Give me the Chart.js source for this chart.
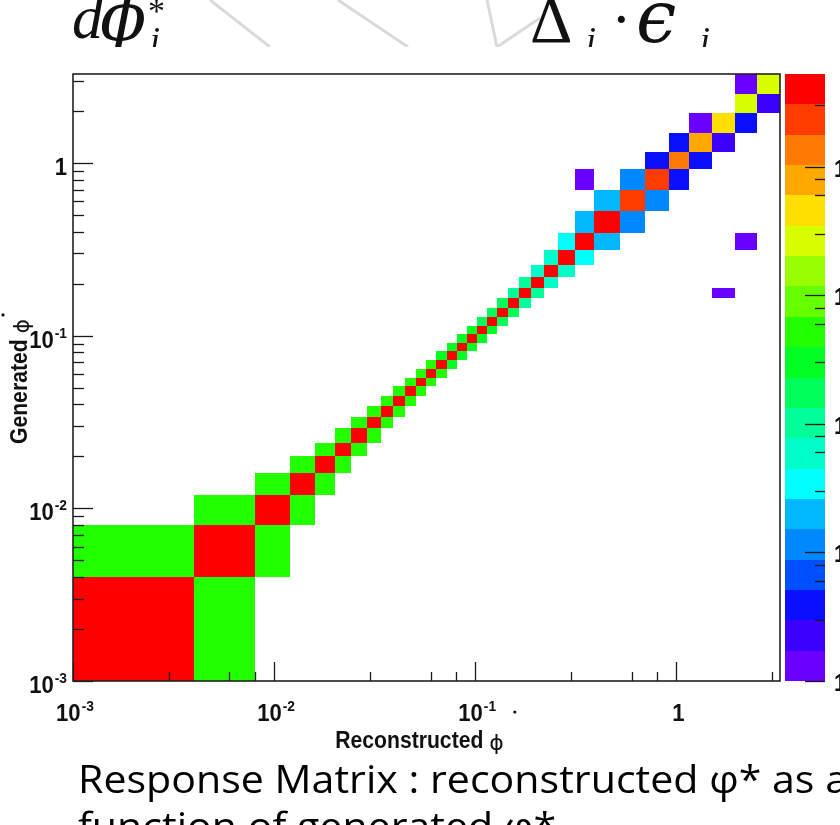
<!DOCTYPE html>
<html>
<head>
<meta charset="utf-8">
<script src="https://cdn.jsdelivr.net/npm/chart.js@4.4.1/dist/chart.umd.min.js"></script>
<style>
html,body{margin:0;padding:0;background:#fff;overflow:hidden}
#c{display:block}
</style>
</head>
<body>
<canvas id="c" width="840" height="825"></canvas>
<script>
// ---------------- data ----------------
const binEdges = [0.001,0.004,0.008,0.012,0.016,0.020,0.024,0.029,0.034,0.039,0.045,0.051,0.057,0.064,0.072,0.081,0.091,0.102,0.114,0.128,0.145,0.165,0.189,0.219,0.258,0.312,0.391,0.524,0.695,0.918,1.153,1.496,1.947,2.522,3.277];
// counts on the diagonal (reco bin == generated bin)
const diagCounts = [44000,46000,41000,39000,42000,40500,43000,41500,40000,42500,39500,41000,40000,38500,39000,41000,40000,38000,39500,37500,38000,36500,37000,35000,36000,34500,33500,24000,21500,13500,8200,4700,2700,2500];
// counts in reco bin = generated bin - 1
const lowerCounts = [null,560,540,520,510,500,490,500,480,470,480,460,450,430,340,320,300,280,190,170,150,110,95,62,52,34,21,18,11,4,4,1,null,1];
// counts in reco bin = generated bin + 1
const upperCounts = [600,580,560,540,520,510,500,490,480,470,460,450,440,380,350,330,300,270,200,160,120,90,70,55,38,22,13,11,4,4,2,4,2,null];
// isolated entries
const extraGen = [21,25,28];
const extraReco = [31,32,25];
const extraCounts = [1,1,1];
// colour scale
const zMin = 1, zMax = 52480, nContours = 20;
const palette = ['#6a00ff','#3c00ff','#0a10ff','#0050ff','#0088ff','#00b8ff','#00ffff','#00ffc8','#00ff99','#00ff5a','#00ff22','#22ff00','#66ff00','#99ff00','#d8ff00','#ffe000','#ffa800','#ff7a00','#ff3c00','#ff0000'];
// axis tick labels
const xTickValues = [0.001,0.01,0.1,1];
const xTickLabels = ['10^-3','10^-2','10^-1','1'];
const yTickValues = [0.001,0.01,0.1,1];
const yTickLabels = ['10^-3','10^-2','10^-1','1'];
const zTickValues = [1,10,100,1000,10000];
const zTickLabels = ['1','10','10^2','10^3','10^4'];
const xTitle = 'Reconstructed ';
const yTitle = 'Generated ';
const phiSym = '\u03D5';
const caption1 = 'Response Matrix : reconstructed \u03C6* as a';
const caption2 = 'function of generated \u03C6*';

// ---------------- build cells ----------------
const cells = [];
for (let g = 0; g < diagCounts.length; g++) {
  cells.push({g, r: g, z: diagCounts[g]});
  if (lowerCounts[g] != null) cells.push({g, r: g - 1, z: lowerCounts[g]});
  if (upperCounts[g] != null) cells.push({g, r: g + 1, z: upperCounts[g]});
}
for (let i = 0; i < extraGen.length; i++) cells.push({g: extraGen[i], r: extraReco[i], z: extraCounts[i]});
const points = cells.map(c => ({
  x: Math.sqrt(binEdges[c.r] * binEdges[c.r + 1]),
  y: Math.sqrt(binEdges[c.g] * binEdges[c.g + 1]),
  z: c.z, r: c.r, g: c.g
}));

function logTicks(min, max) {
  const t = [];
  for (let e = -4; e <= 5; e++) for (let m = 1; m <= 9; m++) {
    const v = +(m * Math.pow(10, e)).toPrecision(6);
    if (v >= min * 0.9999 && v <= max * 1.0001) t.push({value: v, major: m === 1});
  }
  return t;
}

const SX = 0.92;
const LBL = '"Liberation Sans", Arial, sans-serif';
function sText(ctx, s, x, y, font, sx) {
  ctx.save(); ctx.font = font; ctx.translate(x, y); ctx.scale(sx, 1); ctx.textAlign = 'left'; ctx.fillText(s, 0, 0); ctx.restore();
}
function powLabel(ctx, label, x, y, align, big, small, rise) {
  const parts = label.split('^');
  ctx.font = 'bold ' + big + 'px ' + LBL;
  const wb = ctx.measureText(parts[0]).width * SX;
  let we = 0;
  if (parts[1]) { ctx.font = 'bold ' + small + 'px ' + LBL; we = ctx.measureText(parts[1]).width * SX + 1; }
  const tot = wb + we;
  const x0 = align === 'center' ? x - tot / 2 : align === 'right' ? x - tot : x;
  sText(ctx, parts[0], x0, y, 'bold ' + big + 'px ' + LBL, SX);
  if (parts[1]) sText(ctx, parts[1], x0 + wb + 1, y - rise, 'bold ' + small + 'px ' + LBL, SX);
}
function bandIndex(z) {
  const f = (Math.log10(z) - Math.log10(zMin)) / (Math.log10(zMax) - Math.log10(zMin));
  return Math.max(0, Math.min(nContours - 1, Math.floor(f * nContours)));
}

// ---------------- plugins ----------------
const slidePlugin = {
  id: 'slide',
  beforeDraw(chart) {
    const ctx = chart.ctx;
    ctx.save();
    ctx.fillStyle = '#fff'; ctx.fillRect(0, 0, chart.width, chart.height);
    ctx.beginPath(); ctx.rect(0, 0, 840, 47); ctx.clip();
    ctx.strokeStyle = '#dadada'; ctx.lineWidth = 3;
    [[210,0,270,47],[338,0,408,47],[487,0,497,47],[497,47,540,18]].forEach(l => {
      ctx.beginPath(); ctx.moveTo(l[0], l[1]); ctx.lineTo(l[2], l[3]); ctx.stroke();
    });
    ctx.fillStyle = '#111';
    const SER = '"Liberation Serif","DejaVu Serif",serif';
    ctx.font = 'italic 62px ' + SER; ctx.fillText('d', 72, 38);
    ctx.font = 'italic 68px "DejaVu Serif",serif'; ctx.fillText(phiSym, 100, 40);
    ctx.font = '34px ' + SER; ctx.fillText('*', 148, 22);
    ctx.font = 'italic 36px ' + SER; ctx.fillText('i', 150, 52);
    ctx.font = '66px ' + SER; ctx.fillText('\u0394', 530, 42);
    ctx.font = 'italic 36px ' + SER; ctx.fillText('i', 586, 52);
    ctx.font = 'bold 44px ' + SER; ctx.fillText('\u00B7', 614, 34);
    ctx.font = 'italic 72px "DejaVu Serif",serif'; ctx.fillText('\u03F5', 636, 42);
    ctx.font = 'italic 36px ' + SER; ctx.fillText('i', 700, 52);
    ctx.restore();
  }
};

const cellPlugin = {
  id: 'cells',
  beforeDatasetsDraw(chart) {
    const ctx = chart.ctx, xs = chart.scales.x, ys = chart.scales.y, a = chart.chartArea;
    ctx.save();
    ctx.beginPath(); ctx.rect(a.left, a.top, a.right - a.left, a.bottom - a.top); ctx.clip();
    chart.data.datasets[0].data.forEach(p => {
      const x0 = xs.getPixelForValue(binEdges[p.r]), x1 = xs.getPixelForValue(binEdges[p.r + 1]);
      const y0 = ys.getPixelForValue(binEdges[p.g]), y1 = ys.getPixelForValue(binEdges[p.g + 1]);
      ctx.fillStyle = palette[bandIndex(p.z)];
      ctx.fillRect(Math.round(x0), Math.round(y1), Math.round(x1) - Math.round(x0), Math.round(y0) - Math.round(y1));
    });
    ctx.restore();
  }
};

const axesPlugin = {
  id: 'rootAxes',
  afterDraw(chart) {
    const ctx = chart.ctx, xs = chart.scales.x, ys = chart.scales.y, zs = chart.scales.z, a = chart.chartArea;
    ctx.save();
    // ticks
    ctx.strokeStyle = '#1a1a1a'; ctx.lineWidth = 1.3;
    xs.ticks.forEach(t => {
      const px = Math.round(xs.getPixelForValue(t.value)) + 0.5;
      const len = t.major ? 19 : 9;
      ctx.beginPath(); ctx.moveTo(px, a.bottom); ctx.lineTo(px, a.bottom - len); ctx.stroke();
    });
    ys.ticks.forEach(t => {
      const py = Math.round(ys.getPixelForValue(t.value)) + 0.5;
      const len = t.major ? 20 : 11;
      ctx.beginPath(); ctx.moveTo(a.left, py); ctx.lineTo(a.left + len, py); ctx.stroke();
    });
    // frame
    ctx.strokeStyle = '#222'; ctx.lineWidth = 1.6;
    ctx.strokeRect(a.left, a.top, a.right - a.left, a.bottom - a.top);
    // tick labels
    ctx.fillStyle = '#111';
    xTickValues.forEach((v, i) => powLabel(ctx, xTickLabels[i], xs.getPixelForValue(v) + 2, a.bottom + 40, 'center', 24, 15, 10));
    yTickValues.forEach((v, i) => powLabel(ctx, yTickLabels[i], a.left - 6, ys.getPixelForValue(v) + 12, 'right', 24, 15, 10));
    // x title
    ctx.font = 'bold 23px ' + LBL;
    const wT = ctx.measureText(xTitle).width * SX;
    ctx.font = '22px "DejaVu Sans",sans-serif';
    const wP = ctx.measureText(phiSym).width;
    const xt0 = (a.left + a.right) / 2 - 7 - (wT + wP) / 2;
    sText(ctx, xTitle, xt0, a.bottom + 67, 'bold 23px ' + LBL, SX);
    ctx.font = '22px "DejaVu Sans",sans-serif'; ctx.fillText(phiSym, xt0 + wT, a.bottom + 69);
    ctx.beginPath(); ctx.arc(xt0 + wT + wP + 11, a.bottom + 31, 1.6, 0, Math.PI * 2); ctx.fill();
    // y title
    ctx.save();
    const yc = (a.top + a.bottom) / 2;
    ctx.font = 'bold 23px ' + LBL;
    const wY = ctx.measureText(yTitle).width * SX;
    ctx.translate(27, yc + (wY + wP) / 2 + 4);
    ctx.rotate(-Math.PI / 2);
    sText(ctx, yTitle, 0, 0, 'bold 23px ' + LBL, SX);
    ctx.font = '22px "DejaVu Sans",sans-serif'; ctx.fillText(phiSym, wY, 2);
    ctx.beginPath(); ctx.arc(wY + wP + 4, -24, 1.6, 0, Math.PI * 2); ctx.fill();
    ctx.restore();
    // colour bar
    const cbL = a.right + 5, cbR = a.right + 45;
    const lz0 = Math.log10(zMin), lz1 = Math.log10(zMax);
    for (let k = 0; k < nContours; k++) {
      const zl = Math.pow(10, lz0 + (lz1 - lz0) * k / nContours);
      const zh = Math.pow(10, lz0 + (lz1 - lz0) * (k + 1) / nContours);
      const yl = zs.getPixelForValue(zl), yh = zs.getPixelForValue(zh);
      ctx.fillStyle = palette[k];
      ctx.fillRect(cbL, Math.round(yh), cbR - cbL, Math.round(yl) - Math.round(yh));
    }
    ctx.strokeStyle = '#1a1a1a'; ctx.lineWidth = 1.3;
    zs.ticks.forEach(t => {
      const py = Math.round(zs.getPixelForValue(t.value)) + 0.5;
      const len = t.major ? 20 : 10;
      ctx.beginPath(); ctx.moveTo(cbR, py); ctx.lineTo(cbR - len, py); ctx.stroke();
    });
    ctx.fillStyle = '#111';
    zTickValues.forEach((v, i) => powLabel(ctx, zTickLabels[i], cbR + 9, zs.getPixelForValue(v) + 10, 'left', 24, 15, 10));
    // caption
    ctx.fillStyle = '#000';
    ctx.font = '38px "Open Sans",sans-serif';
    const wc = ctx.measureText(caption1).width;
    const csx = 770 / wc;
    sText(ctx, caption1, 78, 793, '38px "Open Sans",sans-serif', csx);
    sText(ctx, caption2, 78, 840, '38px "Open Sans",sans-serif', csx);
    ctx.restore();
  }
};

const setTicks = scale => { scale.ticks = logTicks(scale.min, scale.max); };

new Chart(document.getElementById('c'), {
  type: 'scatter',
  data: { datasets: [{ label: 'response', data: points, pointRadius: 0, pointHoverRadius: 0, showLine: false }] },
  options: {
    responsive: false, animation: false, devicePixelRatio: 1,
    layout: { padding: { left: 73, top: 74, right: 60, bottom: 144 } },
    plugins: { legend: { display: false }, tooltip: { enabled: false }, title: { display: false } },
    events: [],
    scales: {
      x: { type: 'logarithmic', min: binEdges[0], max: binEdges[binEdges.length - 1], display: false, afterBuildTicks: setTicks },
      y: { type: 'logarithmic', min: binEdges[0], max: binEdges[binEdges.length - 1], display: false, afterBuildTicks: setTicks },
      z: { type: 'logarithmic', axis: 'y', min: zMin, max: zMax, display: false, afterBuildTicks: setTicks }
    }
  },
  plugins: [slidePlugin, cellPlugin, axesPlugin]
});
</script>
</body>
</html>
